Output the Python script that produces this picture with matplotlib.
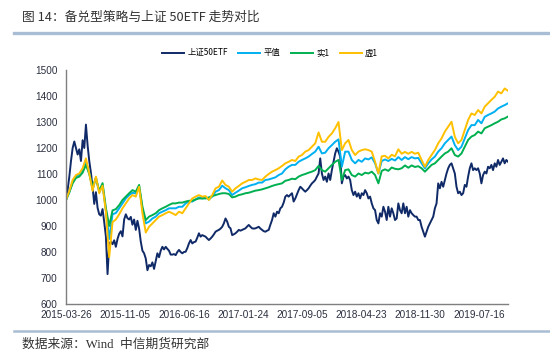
import numpy as np
import matplotlib
matplotlib.use("Agg")
import matplotlib.pyplot as plt
from matplotlib.lines import Line2D

plt.rcParams['font.family'] = ['Noto Sans CJK SC', 'DejaVu Sans']

# trading-day axis, labels every 150 trading days from 2015-03-26
n_days = 1125
tick_step = 150
tick_labels = ["2015-03-26", "2015-11-05", "2016-06-16", "2017-01-24",
               "2017-09-05", "2018-04-23", "2018-11-30", "2019-07-16"]

series_names = ["上证50ETF", "平值", "实1", "虚1"]

# 上证50ETF (normalised to 1000)
etf50 = [
    1000, 1040, 1090, 1150, 1200, 1225, 1200, 1175, 1195, 1150,
    1230, 1200, 1290, 1210, 1150, 1105, 1050, 985, 1030, 970,
    945, 940, 965, 915, 860, 715, 830, 840, 830, 845,
    820, 850, 870, 880, 860, 925, 945, 930, 925, 935,
    905, 925, 885, 920, 890, 840, 805, 795, 775, 730,
    750, 745, 760, 735, 765, 795, 780, 805, 820, 810,
    820, 812, 805, 790, 790,
    792, 788, 800, 808, 800, 795, 800, 801, 815, 833,
    846, 833, 838, 840, 855, 872, 859, 865, 862, 859,
    852, 846, 852, 859, 868, 878, 882, 885, 890, 897,
    910, 929, 917, 897, 891, 865, 868, 872, 878, 885,
    882, 885, 888, 891, 898, 904, 897, 891, 890, 891,
    894, 897, 890, 885, 880, 878, 882, 885, 905, 923,
    949, 936, 955, 949, 968, 974,
    990, 1013, 1019, 1013, 1020, 1026, 994, 1006, 1022, 1038,
    1051, 1045, 1038, 1032, 1038, 1045, 1055, 1064, 1070, 1077,
    1090, 1102, 1160, 1102, 1077, 1090, 1070, 1102, 1077, 1115,
    1147, 1179, 1199, 1186, 1167, 1064, 1090, 1096, 1083, 1090,
    1077, 1038, 1019, 1032, 1013, 1026, 1006, 1026, 1019, 1038,
    1026, 1006, 1013, 987, 968, 961, 923, 910, 949, 936,
    974, 955, 923, 974, 936, 968, 949, 923,
    929, 987, 961, 949, 987, 949, 974, 936, 961, 949,
    942, 936, 936, 923, 923, 897, 878, 859, 878, 897,
    910, 923, 936, 968, 987, 1064, 1045, 1070, 1051, 1077,
    1102, 1122, 1135, 1141, 1122, 1102, 1051, 1026, 1032, 1019,
    1026, 1058, 1051, 1090, 1122, 1141, 1115, 1122, 1115, 1122,
    1102, 1064, 1096, 1109, 1102, 1128, 1122, 1135, 1115, 1141,
    1128, 1154, 1135, 1147, 1160, 1141, 1154, 1147,
]

# 平值 covered call
pingzhi = [
    1000, 1030, 1070, 1090, 1098, 1115, 1145, 1105, 1040, 1085,
    1030, 1058, 960, 850, 945, 950, 968, 987, 1006, 1019,
    1028, 1025, 1052, 965, 910, 917, 929, 936, 949, 955,
    961, 968, 968,
    968, 974, 974, 987, 994, 994, 1002, 1010, 1006, 1010,
    1002, 1013, 1032, 1038, 1055, 1045, 1038, 1019, 1028, 1036,
    1045, 1049, 1054, 1058, 1061, 1067, 1067, 1077, 1079, 1083,
    1087, 1096, 1102,
    1118, 1128, 1135, 1135, 1147, 1154, 1160, 1167, 1177, 1186,
    1205, 1179, 1182, 1199, 1211, 1224, 1233, 1128, 1186, 1186,
    1154, 1141, 1154, 1147, 1160, 1156, 1164, 1141, 1102, 1150,
    1156, 1150, 1158, 1152,
    1165, 1154, 1165, 1157, 1165, 1160, 1162, 1141, 1122, 1141,
    1156, 1167, 1186, 1199, 1218, 1231, 1244, 1211, 1192, 1205,
    1237, 1269, 1288, 1288, 1308, 1295, 1320, 1327, 1333, 1340,
    1352, 1359, 1365, 1372,
]

# 实1 covered call
shi1 = [
    1000, 1030, 1064, 1085, 1090, 1105, 1135, 1100, 1050, 1085,
    1035, 1065, 970, 900, 960, 965, 980, 1000, 1013, 1026,
    1038, 1032, 1058, 974, 923, 936, 942, 949, 961, 968,
    974, 981, 987,
    987, 990, 990, 994, 997, 997, 1002, 1006, 1006, 1006,
    1010, 1015, 1019, 1023, 1026, 1026, 1023, 1010, 1013, 1019,
    1022, 1026, 1028, 1032, 1036, 1038, 1041, 1045, 1049, 1054,
    1058, 1061, 1064,
    1074, 1077, 1082, 1080, 1090, 1096, 1100, 1105, 1109, 1115,
    1131, 1115, 1109, 1122, 1135, 1147, 1154, 1077, 1115, 1118,
    1096, 1090, 1102, 1096, 1105, 1102, 1109, 1096, 1064, 1112,
    1118, 1112, 1125, 1120,
    1118, 1122, 1133, 1124, 1133, 1127, 1130, 1122, 1109, 1122,
    1135, 1141, 1154, 1167, 1179, 1186, 1199, 1173, 1167, 1179,
    1205, 1231, 1244, 1250, 1263, 1256, 1276, 1282, 1288, 1295,
    1301, 1310, 1314, 1321,
]

# 虚1 covered call
xu1 = [
    1000, 1035, 1077, 1096, 1102, 1122, 1160, 1102, 1035, 1090,
    1026, 1055, 955, 780, 915, 925, 945, 968, 987, 1006,
    1019, 1013, 1051, 949, 875, 897, 910, 923, 936, 942,
    949, 955, 949,
    942, 955, 949, 968, 987, 1006, 1013, 1019, 1013, 1015,
    1000, 1019, 1045, 1051, 1075, 1058, 1051, 1032, 1045, 1054,
    1064, 1070, 1077, 1077, 1083, 1079, 1077, 1090, 1100, 1109,
    1115, 1122, 1131,
    1141, 1147, 1154, 1150, 1167, 1173, 1186, 1192, 1205, 1218,
    1260, 1224, 1224, 1243, 1256, 1276, 1300, 1192, 1218, 1231,
    1192, 1173, 1186, 1192, 1195, 1192, 1186, 1147, 1102, 1168,
    1170, 1160, 1174, 1168,
    1195, 1178, 1185, 1178, 1185, 1178, 1182, 1154, 1128, 1154,
    1173, 1192, 1218, 1237, 1263, 1282, 1301, 1243, 1218, 1231,
    1269, 1308, 1333, 1327, 1346, 1333, 1359, 1372, 1385, 1397,
    1417, 1410, 1429, 1420,
]

colors = ["#102a68", "#00b0f0", "#00b050", "#ffc000"]

W, H = 550, 353
fig = plt.figure(figsize=(W / 100, H / 100), dpi=100)
ax = fig.add_axes([66 / W, 1 - 304 / H, 442 / W, 234 / H])

for vals, name, c in zip([etf50, pingzhi, shi1, xu1], series_names, colors):
    x = np.linspace(0, n_days - 1, len(vals))
    ax.plot(x, vals, color=c, lw=1.4, label=name)

ax.set_xlim(0, n_days - 1)
ax.set_ylim(600, 1500)
ax.set_yticks(range(600, 1501, 100))
ax.set_xticks([i * tick_step for i in range(len(tick_labels))])
ax.set_xticklabels(tick_labels)

for s in ["top", "right"]:
    ax.spines[s].set_visible(False)
for s in ["left", "bottom"]:
    ax.spines[s].set_color("#7f7f7f")
    ax.spines[s].set_linewidth(1.0)

ax.tick_params(length=0, labelsize=7.2, colors="#2b2f3f")
ax.tick_params(axis="y", pad=6)
ax.tick_params(axis="x", pad=4)
for lab in ax.get_xticklabels() + ax.get_yticklabels():
    lab.set_family("Liberation Sans")

fig.legend(loc="center", bbox_to_anchor=(270 / W, 1 - 53 / H), ncol=4,
           frameon=False, fontsize=6, handlelength=2.6,
           handletextpad=0.4, columnspacing=1.3)

# title and source
fig.text(22 / W, 1 - 17 / H, "图 14：备兑型策略与上证 50ETF 走势对比",
         fontsize=9.2, color="#333333", va="center", ha="left")
fig.add_artist(Line2D([14 / W, 1], [1 - 33 / H, 1 - 33 / H],
                      transform=fig.transFigure, color="#a9bdd4", lw=2.4))
fig.add_artist(Line2D([14 / W, 1], [1 - 331 / H, 1 - 331 / H],
                      transform=fig.transFigure, color="#a9bdd4", lw=1.8))
fig.text(22 / W, 1 - 344 / H, "数据来源：Wind  中信期货研究部",
         fontsize=9.2, color="#333333", va="center", ha="left",
         family=["Liberation Serif", "Noto Sans CJK SC"])

fig.savefig("out.png", dpi=100)
